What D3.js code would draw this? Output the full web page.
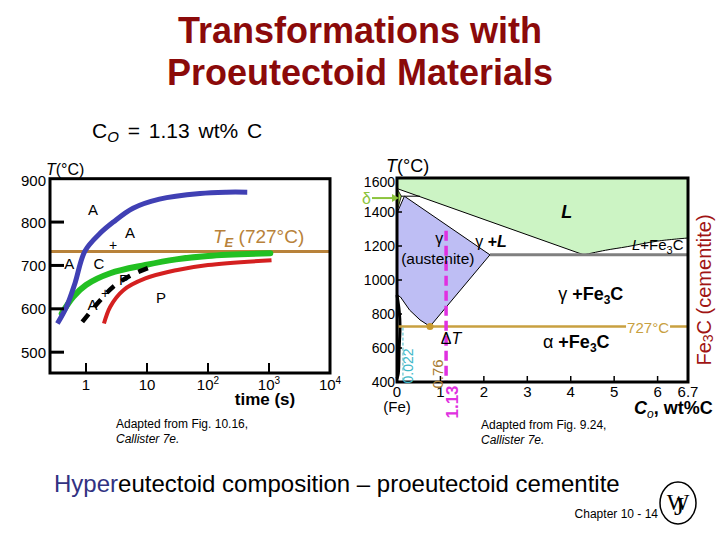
<!DOCTYPE html>
<html><head><meta charset="utf-8">
<script src="https://cdn.jsdelivr.net/npm/d3@7/dist/d3.min.js"></script>
<style>body{margin:0;background:#fff} svg{display:block;font-family:"Liberation Sans",Arial,sans-serif}</style>
</head><body><svg id="c" width="720" height="540"></svg>
<script>
// ---------- data: left (TTT) chart ----------
const timeTicks = [1, 10, 100, 1000, 10000];
const timeTickExp = ["", "", "2", "3", "4"];
const tempTicksLeft = [500, 600, 700, 800, 900];
const TE = 732;
const blueCurve  = [[0.34,566],[0.48,605],[0.66,659],[0.96,733],[1.7,774],[2.8,800],[5.9,832],[16,853],[74,866],[200,869],[440,869]];
const greenCurve = [[0.40,589],[0.62,628],[1,655],[2.5,682],[9.4,701],[30,714],[100,722],[1050,728]];
const redCurve   = [[1.97,566],[2.5,605],[4.1,643],[9.4,670],[30,689],[100,701],[1100,712]];
const blackCurve = [[0.87,570],[1.6,615],[2.8,651],[5.6,678],[11.9,697]];
const leftLabels = [
  {t:"A", x:1.30, y:828}, {t:"A", x:5.26, y:775}, {t:"+", x:2.77, y:747},
  {t:"A", x:0.53, y:705}, {t:"C", x:1.63, y:705}, {t:"P", x:4.2, y:668},
  {t:"+", x:2.05, y:636}, {t:"A'", x:1.35, y:611}, {t:"P", x:17, y:627}
];
// ---------- data: right (Fe-C phase diagram) ----------
const compTicks = [0, 1, 2, 3, 4, 5, 6, 6.7];
const tempTicksRight = [400, 600, 800, 1000, 1200, 1400, 1600];
const liquidRegion = [[0,1600],[6.7,1600],[6.7,1247],[6.0,1229],[5.3,1196],[4.8,1175],[4.3,1148],[0,1538]];
const gammaRegion  = [[0,1394],[0.17,1493],[2.14,1148],[0.76,727],[0.53,765],[0.29,823],[0.08,900],[0,912]];
const deltaRegion  = [[0,1538],[0.1,1493],[0.02,1420],[0,1394]];
const alphaRegion  = [[0,912],[0.05,820],[0.07,727],[0.05,600],[0.03,450],[0,420]];
const eutecticT = 1148, eutecticFrom = 2.14;
const eutectoidT = 727, eutectoidC = 0.76;
const C0 = 1.13, C0top = 1290;
const cAlpha = 0.022;

const svg = d3.select("#c");
svg.append("rect").attr("width",720).attr("height",540).attr("fill","#fff");

// ---------- titles ----------
const title = svg.append("text").attr("text-anchor","middle").attr("font-weight","bold")
  .attr("font-size",36).attr("fill","#8b0a0a");
title.append("tspan").attr("x",360).attr("y",43).text("Transformations with");
title.append("tspan").attr("x",360).attr("y",85).text("Proeutectoid Materials");

const co = svg.append("text").attr("x",92).attr("y",138).attr("font-size",21).attr("word-spacing",3);
co.append("tspan").text("C");
co.append("tspan").attr("font-size",15).attr("font-style","italic").attr("dy",4).text("O");
co.append("tspan").attr("dy",-4).text(" = 1.13 wt% C");

// ---------- left chart ----------
const xL = d3.scaleLog().domain([0.257, 10000]).range([50, 330]);
const yL = d3.scaleLinear().domain([452, 900]).range([373, 178.7]);
const gL = svg.append("g");

gL.append("line").attr("x1",xL.range()[0]).attr("x2",xL.range()[1]).attr("y1",yL(TE)).attr("y2",yL(TE))
  .attr("stroke","#b8823a").attr("stroke-width",3);

const lineL = d3.line().x(d=>xL(d[0])).y(d=>yL(d[1])).curve(d3.curveCatmullRom.alpha(0.5));
gL.append("path").attr("d",lineL(greenCurve)).attr("fill","none").attr("stroke","#22c022").attr("stroke-width",6).attr("stroke-linecap","round");
gL.append("path").attr("d",lineL(redCurve)).attr("fill","none").attr("stroke","#d42020").attr("stroke-width",4);
gL.append("path").attr("d",lineL(blueCurve)).attr("fill","none").attr("stroke","#4040b4").attr("stroke-width",5);
gL.append("path").attr("d",lineL(blackCurve)).attr("fill","none").attr("stroke","#000").attr("stroke-width",4.5)
  .attr("stroke-dasharray","10,9");

gL.append("rect").attr("x",50).attr("y",178.7).attr("width",280).attr("height",373-178.7)
  .attr("fill","none").attr("stroke","#000").attr("stroke-width",3);

tempTicksLeft.forEach(v=>{
  if (v < 900) gL.append("line").attr("x1",50).attr("x2",64).attr("y1",yL(v)).attr("y2",yL(v)).attr("stroke","#000").attr("stroke-width",3);
  gL.append("text").attr("x",46).attr("y",yL(v)+ (v===900?2:0)).attr("text-anchor","end").attr("dominant-baseline","central")
    .attr("font-size",15).text(v);
});
timeTicks.forEach((v,i)=>{
  if (v < 10000) gL.append("line").attr("x1",xL(v)).attr("x2",xL(v)).attr("y1",373).attr("y2",363).attr("stroke","#000").attr("stroke-width",2);
  const t = gL.append("text").attr("x",xL(v)).attr("y",390).attr("text-anchor","middle").attr("font-size",15);
  t.append("tspan").text(timeTickExp[i] ? "10" : String(v));
  if (timeTickExp[i]) t.append("tspan").attr("font-size",10).attr("dy",-6).text(timeTickExp[i]);
});
gL.append("text").attr("x",265).attr("y",405).attr("text-anchor","middle").attr("font-weight","bold").attr("font-size",17).text("time (s)");
const tl = gL.append("text").attr("x",46).attr("y",175).attr("font-size",16);
tl.append("tspan").attr("font-style","italic").text("T");
tl.append("tspan").text("(°C)");

const te = gL.append("text").attr("x",213).attr("y",243).attr("font-size",19).attr("fill","#b8823a");
te.append("tspan").attr("font-style","italic").text("T");
te.append("tspan").attr("font-style","italic").attr("font-weight","bold").attr("font-size",13).attr("dy",4).text("E");
te.append("tspan").attr("dy",-4).text(" (727°C)");

leftLabels.forEach(d=>{
  gL.append("text").attr("x",xL(d.x)).attr("y",yL(d.y)).attr("text-anchor","middle").attr("dominant-baseline","central")
    .attr("font-size",d.t==="+"?14:15).text(d.t);
});

// ---------- right chart ----------
const xR = d3.scaleLinear().domain([0, 6.7]).range([397, 688]);
const yR = d3.scaleLinear().domain([400, 1600]).range([382, 178]);
const gR = svg.append("g");
const poly = d3.line().x(d=>xR(d[0])).y(d=>yR(d[1]));
const liqLine = d3.line().x(d=>xR(d[0])).y(d=>yR(d[1])).curve(d3.curveCatmullRom.alpha(0.5));

gR.append("path").attr("d",poly(liquidRegion)+"Z").attr("fill","#ccf4c4").attr("stroke","none");
gR.append("path").attr("d",liqLine(liquidRegion.slice(2,7))).attr("fill","none").attr("stroke","#000").attr("stroke-width",1);
gR.append("path").attr("d",poly([liquidRegion[6],liquidRegion[7]])).attr("fill","none").attr("stroke","#000").attr("stroke-width",1);
gR.append("line").attr("x1",xR(0.09)).attr("x2",xR(0.53)).attr("y1",yR(1493)).attr("y2",yR(1493)).attr("stroke","#000").attr("stroke-width",1);

gR.append("path").attr("d",poly(gammaRegion)+"Z").attr("fill","#bebef4").attr("stroke","#000").attr("stroke-width",1);
gR.append("path").attr("d",poly(deltaRegion)+"Z").attr("fill","#9ed84a").attr("stroke","#000").attr("stroke-width",0.8);
gR.append("path").attr("d",liqLine(alphaRegion)).attr("fill","none").attr("stroke","#000").attr("stroke-width",3);

gR.append("line").attr("x1",xR(eutecticFrom)).attr("x2",xR(6.7)).attr("y1",yR(eutecticT)).attr("y2",yR(eutecticT))
  .attr("stroke","#808080").attr("stroke-width",3);
gR.append("line").attr("x1",xR(0)).attr("x2",xR(6.7)).attr("y1",yR(eutectoidT)).attr("y2",yR(eutectoidT))
  .attr("stroke","#c8a040").attr("stroke-width",2.5);
gR.append("circle").attr("cx",xR(eutectoidC)).attr("cy",yR(eutectoidT)).attr("r",3.5).attr("fill","#c89a30");
gR.append("rect").attr("x",xR(5.78)-22).attr("y",yR(eutectoidT)-8).attr("width",44).attr("height",16).attr("fill","#fff");
gR.append("text").attr("x",xR(5.78)).attr("y",yR(eutectoidT)+1).attr("text-anchor","middle").attr("dominant-baseline","central")
  .attr("font-size",15).attr("fill","#c8a040").text("727°C");

gR.append("line").attr("x1",xR(cAlpha)+5).attr("x2",xR(cAlpha)+5).attr("y1",yR(720)).attr("y2",yR(400))
  .attr("stroke","#40b8c8").attr("stroke-width",1).attr("stroke-dasharray","3,2");

gR.append("line").attr("x1",xR(C0)).attr("x2",xR(C0)).attr("y1",yR(C0top)).attr("y2",yR(400))
  .attr("stroke","#e030e0").attr("stroke-width",3.5).attr("stroke-dasharray","10,5");

gR.append("rect").attr("x",397).attr("y",178).attr("width",291).attr("height",204)
  .attr("fill","none").attr("stroke","#000").attr("stroke-width",3);

tempTicksRight.forEach(v=>{
  gR.append("line").attr("x1",397).attr("x2",402).attr("y1",yR(v)).attr("y2",yR(v)).attr("stroke","#000").attr("stroke-width",1.5);
  gR.append("text").attr("x",395).attr("y",Math.max(yR(v),182)).attr("text-anchor","end").attr("dominant-baseline","central")
    .attr("font-size",14).text(v);
});
compTicks.forEach(v=>{
  gR.append("line").attr("x1",xR(v)).attr("x2",xR(v)).attr("y1",382).attr("y2",376).attr("stroke","#000").attr("stroke-width",1.5);
  gR.append("text").attr("x",xR(v)).attr("y",397).attr("text-anchor","middle").attr("font-size",15)
    .attr("font-family","'Liberation Sans Narrow','Liberation Sans',Arial,sans-serif").text(v);
});
gR.append("text").attr("x",xR(0)).attr("y",412).attr("text-anchor","middle").attr("font-size",15)
  .attr("font-family","'Liberation Sans Narrow','Liberation Sans',Arial,sans-serif").text("(Fe)");

function rot(x,y,txt,opts){
  const t = gR.append("text").attr("transform",`translate(${x},${y}) rotate(-90)`).attr("text-anchor","middle")
    .attr("dominant-baseline","central").attr("font-size",opts.size).attr("fill",opts.fill);
  if (opts.bold) t.attr("font-weight","bold");
  if (opts.family) t.attr("font-family",opts.family);
  t.text(txt); return t;
}
rot(xR(cAlpha)+10, 366, "0.022", {size:14, fill:"#40b8c8", family:"'Liberation Sans Narrow','Liberation Sans',Arial,sans-serif"});
rot(xR(eutectoidC)+7, 374, "0.76", {size:15, fill:"#a87c34", family:"'Liberation Sans Narrow','Liberation Sans',Arial,sans-serif"});
rot(xR(C0)+6, 402, "1.13", {size:17, fill:"#e030e0", bold:true});

const tr = gR.append("text").attr("x",386).attr("y",172).attr("font-size",18);
tr.append("tspan").attr("font-style","italic").text("T");
tr.append("tspan").text("(°C)");

gR.append("text").attr("x",xR(3.91)).attr("y",yR(1400)).attr("text-anchor","middle").attr("dominant-baseline","central")
  .attr("font-size",18).attr("font-weight","bold").attr("font-style","italic").text("L");
gR.append("text").attr("x",xR(0.97)).attr("y",yR(1247)).attr("text-anchor","middle").attr("dominant-baseline","central")
  .attr("font-size",16).text("γ");
gR.append("text").attr("x",xR(0.94)).attr("y",yR(1124)).attr("text-anchor","middle").attr("dominant-baseline","central")
  .attr("font-size",15.5).text("(austenite)");
const gl = gR.append("text").attr("x",xR(1.8)).attr("y",yR(1229)).attr("dominant-baseline","central").attr("font-size",16);
gl.append("tspan").text("γ ");
gl.append("tspan").attr("font-weight","bold").text("+");
gl.append("tspan").attr("font-weight","bold").attr("font-style","italic").text("L");
const lf = gR.append("text").attr("x",xR(5.41)).attr("y",yR(1176)).attr("font-size",15);
lf.append("tspan").attr("font-style","italic").text("L");
lf.append("tspan").text("+Fe");
lf.append("tspan").attr("font-size",11).attr("dy",4).text("3");
lf.append("tspan").attr("dy",-4).text("C");
function phaseLabel(x,y,greek){
  const t = gR.append("text").attr("x",xR(x)).attr("y",yR(y)).attr("font-size",18);
  t.append("tspan").text(greek+" ");
  t.append("tspan").attr("font-weight","bold").text("+Fe");
  t.append("tspan").attr("font-weight","bold").attr("font-size",12).attr("dy",4).text("3");
  t.append("tspan").attr("font-weight","bold").attr("dy",-4).text("C");
}
phaseLabel(3.71, 880, "γ");
phaseLabel(3.36, 598, "α");
const dt = gR.append("text").attr("x",xR(1.01)).attr("y",yR(659)).attr("dominant-baseline","central").attr("font-size",16);
dt.append("tspan").text("Δ");
dt.append("tspan").attr("font-style","italic").text("T");

gR.append("text").attr("x",362).attr("y",yR(1482)).attr("dominant-baseline","central").attr("font-size",16).attr("fill","#8cc43c").text("δ");
gR.append("line").attr("x1",372).attr("x2",393).attr("y1",yR(1482)).attr("y2",yR(1482)).attr("stroke","#8cc43c").attr("stroke-width",2);
gR.append("path").attr("d",`M399,${yR(1482)} l-7,-4 l0,8 Z`).attr("fill","#8cc43c");

const fe = gR.append("text").attr("transform","translate(704,290) rotate(-90)").attr("text-anchor","middle")
  .attr("dominant-baseline","central").attr("font-size",20).attr("fill","#a01414");
fe.append("tspan").text("Fe");
fe.append("tspan").attr("font-size",14).attr("dy",4).text("3");
fe.append("tspan").attr("dy",-4).text("C (cementite)");

const cw = gR.append("text").attr("x",634).attr("y",414).attr("font-size",18).attr("font-weight","bold");
cw.append("tspan").attr("font-style","italic").text("C");
cw.append("tspan").attr("font-style","italic").attr("font-weight","normal").attr("font-size",12).attr("dy",4).text("o");
cw.append("tspan").attr("dy",-4).text(", wt%C");

// ---------- notes ----------
function note(x,y,first){
  const t = svg.append("text").attr("font-size",12).attr("font-family","'Liberation Sans Narrow','Liberation Sans',Arial,sans-serif");
  t.append("tspan").attr("x",x).attr("y",y).text(first);
  t.append("tspan").attr("x",x).attr("y",y+15).attr("font-style","italic").text("Callister 7e.");
}
note(116, 428, "Adapted from Fig. 10.16,");
note(481, 429, "Adapted from Fig. 9.24,");

const bt = svg.append("text").attr("x",54).attr("y",492).attr("font-size",24);
bt.append("tspan").attr("fill","#323282").text("Hyper");
bt.append("tspan").attr("fill","#000").text("eutectoid composition – proeutectoid cementite");

svg.append("text").attr("x",658).attr("y",518).attr("text-anchor","end").attr("font-size",12)
  .attr("font-family","'Liberation Sans Narrow','Liberation Sans',Arial,sans-serif").text("Chapter 10 - 14");
// logo
svg.append("ellipse").attr("cx",678).attr("cy",503).attr("rx",18).attr("ry",21).attr("fill","none").attr("stroke","#000").attr("stroke-width",1.5);
svg.append("text").attr("x",678).attr("y",502).attr("text-anchor","middle").attr("dominant-baseline","central")
  .attr("font-family","'Liberation Serif',serif").attr("font-size",24).text("W");
svg.append("text").attr("x",679).attr("y",506).attr("text-anchor","middle").attr("dominant-baseline","central")
  .attr("font-family","'Liberation Serif',serif").attr("font-size",26).text("J");
</script></body></html>
